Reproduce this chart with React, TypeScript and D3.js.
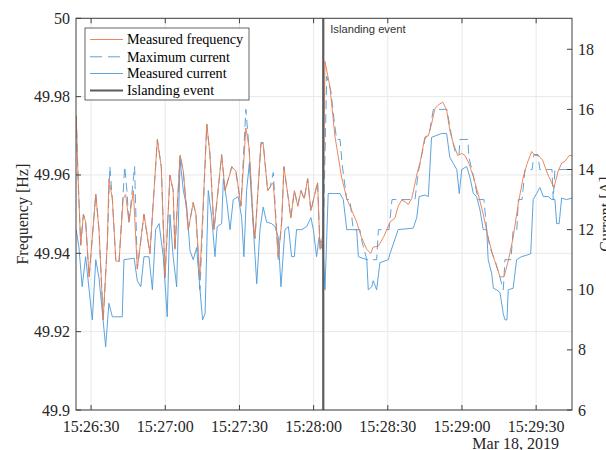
import React from "react";
import * as d3 from "d3";

// seconds after 15:26:24 on Mar 18, 2019
const freqTime = [0,0.7,1.8,2.9,3.8,5.2,7.9,9.2,10.9,12.6,13.2,14.6,16.0,17.3,19.0,20.0,21.3,23.1,24.7,27.4,29.8,32.8,34.4,35.9,37.9,39.2,39.9,42.0,43.3,45.3,47.3,48.4,50.0,52.8,54.1,55.7,57.0,58.8,60.2,62.9,64.6,66.6,68.6,69.9,71.6,72.3,74.7,75.6,77.4,78.4,79.7,81.7,83.1,84.0,85.8,86.8,88.2,89.6,90.9,92.2,93.6,94.9,97.6,98.6,99.8,100.6,102.6,104.6,107.3,109.4,111.4,113.4,115.4,117.5,119.1,120.1,122.1,124.2,126.9,128.9,130.2,131.6,132.9,134.3,135.7,137.9,139.0,141.0,142.4,143.7,145.1,146.7,148.2,149.8,151.1,152.5,154.3,155.9,157.2,158.8,160.6,162.6,164.6,166.6,168.7,169.3,171.4,173.0,174.7,176.7,178.8,180.8,182.4,184.2,185.5,186.9,188.6,190.5,192.3,193.2,194.9,196.3,197.7,199.4,200.5];
const freqValue = [49.975,49.960,49.942,49.950,49.948,49.934,49.955,49.946,49.923,49.943,49.959,49.954,49.938,49.938,49.954,49.955,49.948,49.956,49.936,49.950,49.940,49.969,49.962,49.934,49.960,49.956,49.941,49.965,49.961,49.946,49.953,49.950,49.934,49.973,49.965,49.946,49.954,49.965,49.956,49.962,49.961,49.952,49.972,49.967,49.948,49.944,49.968,49.968,49.956,49.957,49.958,49.939,49.948,49.962,49.954,49.949,49.956,49.952,49.956,49.954,49.959,49.951,49.958,49.941,49.945,49.989,49.9825,49.970,49.9595,49.954,49.951,49.948,49.944,49.941,49.940,49.9416,49.9418,49.944,49.948,49.949,49.952,49.9536,49.9532,49.9525,49.954,49.9605,49.963,49.9697,49.970,49.973,49.977,49.978,49.9786,49.9766,49.9714,49.968,49.965,49.9655,49.965,49.963,49.9595,49.955,49.950,49.944,49.939,49.938,49.934,49.934,49.938,49.944,49.9528,49.9595,49.963,49.966,49.965,49.965,49.9638,49.9605,49.958,49.9567,49.961,49.963,49.9635,49.965,49.965];

const maxCurTime = [0,0.7,1.8,2.9,3.8,5.2,7.9,9.2,10.9,12.6,13.6,14.6,16.0,17.3,19.6,20.5,21.3,23.6,24.7,27.4,29.8,32.8,34.4,35.9,37.9,39.2,39.9,42.0,43.3,45.3,47.3,48.4,50.0,52.8,54.1,55.7,57.0,58.8,60.2,62.9,64.6,66.6,68.6,69.9,71.6,72.3,74.7,75.6,77.4,78.4,79.7,81.7,83.1,84.0,85.8,86.8,88.2,89.6,90.9,92.2,93.6,94.9,97.6,98.6,99.8,101.3,103.0,104.2,105.3,106.7,107.5,109.4,110.7,112.0,114.7,115.6,117.5,121.5,122.2,126.5,127.7,137.0,138.3,139.8,141.0,143.0,144.4,149.9,151.8,153.2,154.8,155.2,158.4,158.8,160.6,162.5,164.9,166.0,167.3,169.3,171.4,172.7,173.4,175.8,176.7,178.2,178.8,180.3,181.5,184.4,185.1,186.7,187.5,192.4,192.9,193.6,200.5];
const maxCurValue = [15.8,13.8,11.5,12.5,12.3,10.4,13.2,12.0,9.0,11.6,14.1,13.0,11.0,10.9,14.1,13.3,12.2,14.1,10.7,12.5,11.2,15.0,14.1,10.4,13.8,13.3,11.3,14.5,13.9,12.0,12.9,12.5,10.0,15.5,14.5,12.0,13.0,14.5,13.3,14.1,13.9,12.8,16.0,14.7,12.2,11.7,14.9,14.9,13.3,13.4,13.9,11.0,12.3,14.1,13.0,12.4,13.3,12.8,13.3,13.0,13.7,12.6,13.6,11.3,11.5,17.1,16.6,15.7,15.0,15.0,14.2,13.0,13.0,12.0,12.0,11.6,11.0,11.0,12.0,12.0,13.0,13.0,13.9,14.5,15.0,15.3,16.0,16.0,15.1,14.6,14.5,15.0,15.0,14.4,13.8,13.0,13.0,12.0,11.4,11.0,10.4,10.0,11.0,11.0,12.0,12.0,13.0,13.0,14.0,14.0,14.5,14.5,14.0,14.0,13.0,14.0,14.0];

const curTime = [0,1.1,2.4,3.8,5.2,6.5,7.9,9.2,10.5,11.9,13.2,14.6,18.6,19.3,23.4,24.7,26.1,27.4,29.4,30.8,32.1,33.5,35.2,36.8,37.9,39.2,40.6,42.0,43.3,44.7,46.0,47.3,48.7,50.0,51.1,52.1,53.4,54.8,56.1,57.0,58.8,59.5,60.8,62.2,63.5,65.5,66.9,67.8,68.9,70.0,71.0,73.0,74.3,75.6,77.0,79.0,80.4,81.7,82.8,84.4,85.8,87.1,88.2,89.1,91.2,93.2,94.9,95.9,97.2,98.2,99.9,100.6,101.9,104.0,106.7,108.0,109.4,113.4,114.1,117.5,118.1,119.5,120.1,121.5,122.8,126.2,126.9,130.2,136.3,137.7,138.7,141.0,142.4,143.7,147.8,149.8,151.1,152.5,153.9,154.9,155.9,157.9,159.2,160.6,161.9,163.3,164.6,166.0,166.6,168.0,168.7,170.0,171.4,172.7,173.4,174.2,174.7,176.7,178.1,180.1,182.2,183.8,184.8,186.2,187.5,188.9,190.9,192.3,193.6,194.3,195.3,196.3,198.3,200.5];
const curValue = [12.0,11.4,10.1,11.1,10.0,9.0,11.0,10.4,9.3,8.1,9.55,9.1,9.1,11.0,11.05,10.3,10.1,11.1,11.1,10.0,12.0,12.2,11.1,9.1,12.5,11.1,10.1,14.3,13.3,12.75,11.3,11.0,11.4,10.05,9.0,9.2,13.3,12.4,11.1,12.1,12.2,13.7,13.0,12.0,13.0,13.1,12.4,11.1,13.3,14.2,12.9,10.2,12.0,12.75,12.25,12.2,12.1,11.75,10.1,12.0,12.1,11.1,11.1,12.0,12.0,12.1,12.4,12.0,11.1,11.75,11.3,10.0,13.2,13.2,13.2,13.0,12.0,12.0,11.1,11.0,10.0,10.1,10.3,10.0,10.9,11.0,11.2,12.0,12.05,12.4,13.1,13.15,13.1,15.07,15.2,15.2,14.4,14.2,14.0,13.2,14.0,14.1,13.75,13.2,13.1,12.65,12.0,12.0,11.0,10.55,10.05,10.0,9.9,9.2,9.0,9.0,10.0,10.05,11.0,11.1,11.15,11.2,13.0,13.2,13.4,13.1,13.1,13.0,13.0,12.2,12.2,13.05,13.0,13.05];

const eventTime = 99.9;
const freqTicks = [49.9, 49.92, 49.94, 49.96, 49.98, 50];
const freqTickLabels = ["49.9", "49.92", "49.94", "49.96", "49.98", "50"];
const curTicks = [6, 8, 10, 12, 14, 16, 18];
const timeTickSeconds = [6, 36, 66, 96, 126, 156, 186];
const timeTickLabels = ["15:26:30", "15:27:00", "15:27:30", "15:28:00", "15:28:30", "15:29:00", "15:29:30"];
const legendLabels = ["Measured frequency", "Maximum current", "Measured current", "Islanding event"];

const W = 606, H = 450;
const L = 76, R = 572, T = 18.3, B = 410;
const ORANGE = "#EB7A4C";
const BLUE = "#4A9ADA";
const AX = "#404040";
const GRID = "#e8e8e8";
const SERIF = "'Liberation Serif', 'Times New Roman', serif";
const SANS = "'Liberation Sans', Arial, sans-serif";

export default function App() {
  const x = d3.scaleLinear().domain([-0.1, 200.5]).range([L, R]);
  const yF = d3.scaleLinear().domain([49.9, 50]).range([B, T]);
  const yI = d3.scaleLinear().domain([6, 19.03]).range([B, T]);

  const freqLine = d3.line<number>().x((_, i) => x(freqTime[i])).y((d) => yF(d))(freqValue) || "";
  const maxLine = d3.line<number>().x((_, i) => x(maxCurTime[i])).y((d) => yI(d))(maxCurValue) || "";
  const curLine = d3.line<number>().x((_, i) => x(curTime[i])).y((d) => yI(d))(curValue) || "";

  const tk = 5;
  const legendRows = [39.5, 56.8, 73.5, 90.5];

  return (
    <svg width={W} height={H} style={{ position: "absolute", left: 0, top: 0 }}>
      <rect x={0} y={0} width={W} height={H} fill="#fff" />
      <defs>
        <clipPath id="plot">
          <rect x={L} y={T} width={R - L} height={B - T} />
        </clipPath>
      </defs>
      {timeTickSeconds.map((s) => (
        <line key={"gx" + s} x1={x(s)} x2={x(s)} y1={T} y2={B} stroke={GRID} strokeWidth={1} />
      ))}
      {freqTicks.map((f) => (
        <line key={"gy" + f} x1={L} x2={R} y1={yF(f)} y2={yF(f)} stroke={GRID} strokeWidth={1} />
      ))}
      <g clipPath="url(#plot)" fill="none">
        <path d={curLine} stroke={BLUE} strokeWidth={0.9} />
        <path d={maxLine} stroke={BLUE} strokeWidth={0.9} strokeDasharray="9,5" />
        <path d={freqLine} stroke={ORANGE} strokeWidth={0.9} />
      </g>
      <line x1={x(eventTime)} x2={x(eventTime)} y1={T} y2={B} stroke="#5c5c5c" strokeWidth={2.2} />
      <text x={x(eventTime) + 7} y={33} fontFamily={SANS} fontSize={11.2} fill="#333">Islanding event</text>
      <rect x={L} y={T} width={R - L} height={B - T} fill="none" stroke={AX} strokeWidth={1} />
      {timeTickSeconds.map((s, i) => (
        <g key={"xt" + s}>
          <line x1={x(s)} x2={x(s)} y1={B} y2={B - tk} stroke={AX} />
          <line x1={x(s)} x2={x(s)} y1={T} y2={T + tk} stroke={AX} />
          <text x={x(s)} y={431.5} textAnchor="middle" fontFamily={SERIF} fontSize={16} fill="#262626">{timeTickLabels[i]}</text>
        </g>
      ))}
      {freqTicks.map((f, i) => (
        <g key={"yt" + f}>
          <line x1={L} x2={L + tk} y1={yF(f)} y2={yF(f)} stroke={AX} />
          <text x={L - 6} y={yF(f) + 5.5} textAnchor="end" fontFamily={SERIF} fontSize={16} fill="#262626">{freqTickLabels[i]}</text>
        </g>
      ))}
      {curTicks.map((c) => (
        <g key={"rt" + c}>
          <line x1={R} x2={R - tk} y1={yI(c)} y2={yI(c)} stroke={AX} />
          <text x={R + 6} y={yI(c) + 5.5} textAnchor="start" fontFamily={SERIF} fontSize={16} fill="#262626">{c}</text>
        </g>
      ))}
      <text transform={`translate(28,${(T + B) / 2}) rotate(-90)`} textAnchor="middle" fontFamily={SERIF} fontSize={16} fill="#262626">Frequency [Hz]</text>
      <text transform={`translate(611,${(T + B) / 2}) rotate(-90)`} textAnchor="middle" fontFamily={SERIF} fontSize={16} fill="#262626">Current [A]</text>
      <text x={559} y={449} textAnchor="end" fontFamily={SERIF} fontSize={16} fill="#262626">Mar 18, 2019</text>
      <rect x={85} y={28} width={164} height={72} fill="#fff" stroke={AX} strokeWidth={0.8} />
      <line x1={90} x2={123} y1={legendRows[0]} y2={legendRows[0]} stroke={ORANGE} strokeWidth={0.9} />
      <line x1={90} x2={123} y1={legendRows[1]} y2={legendRows[1]} stroke={BLUE} strokeWidth={0.9} strokeDasharray="12,6" />
      <line x1={90} x2={123} y1={legendRows[2]} y2={legendRows[2]} stroke={BLUE} strokeWidth={0.9} />
      <line x1={90} x2={123} y1={legendRows[3]} y2={legendRows[3]} stroke="#5c5c5c" strokeWidth={2.2} />
      {legendLabels.map((t, i) => (
        <text key={t} x={127} y={legendRows[i] + 4.8} fontFamily={SERIF} fontSize={14.2} fill="#000">{t}</text>
      ))}
    </svg>
  );
}
